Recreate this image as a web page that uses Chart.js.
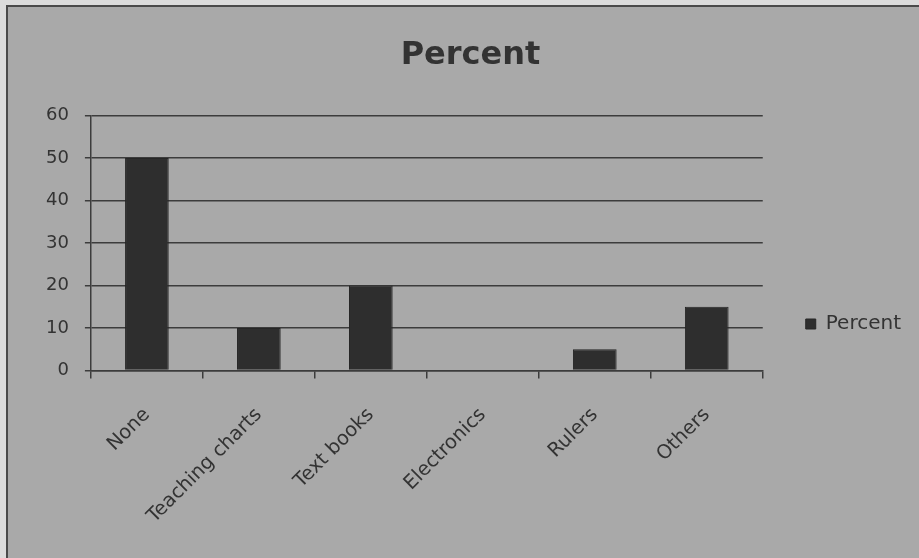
<!DOCTYPE html>
<html>
<head>
<meta charset="utf-8">
<script src="https://cdn.jsdelivr.net/npm/chart.js@4"></script>
<style>
  html, body { margin: 0; padding: 0; width: 919px; height: 558px; overflow: hidden; background: #dcdcdc; }
  #frame { position: absolute; left: 6px; top: 5px; right: 0; bottom: 0;
           border-left: 2px solid #4a4a4a; border-top: 2px solid #4a4a4a; background: #a9a9a9; }
  #wrap { position: absolute; left: 0; top: 0; width: 919px; height: 558px; }
</style>
</head>
<body>
<div id="frame"></div>
<div id="wrap"><canvas id="chart" width="919" height="558"></canvas></div>
<script>
// Share of respondents by teaching resource used
const categories = ["None", "Teaching charts", "Text books", "Electronics", "Rulers", "Others"];
const percentValues = [50, 10, 20, 0, 5, 15];
const seriesName = "Percent";
const yTicks = [0, 10, 20, 30, 40, 50, 60];

const ink = "#333333";
const lineInk = "#3c3c3c";
const fontFamily = "'DejaVu Sans', sans-serif";

new Chart(document.getElementById("chart"), {
  type: "bar",
  data: {
    labels: categories,
    datasets: [{
      label: seriesName,
      data: percentValues,
      backgroundColor: "#2e2e2e",
      borderColor: "#262626",
      borderWidth: 1,
      categoryPercentage: 1,
      barPercentage: 0.39
    }]
  },
  options: {
    responsive: false,
    animation: false,
    layout: { padding: { left: 30, right: 8, top: 10, bottom: 5 } },
    plugins: {
      title: {
        display: true,
        text: seriesName,
        color: ink,
        font: { family: fontFamily, size: 32, weight: "bold" },
        padding: { top: 26, bottom: 41 }
      },
      legend: {
        position: "right",
        // empty title used as a spacer to lower the single legend entry
        title: { display: true, text: " ", font: { size: 10 }, padding: { top: 73, bottom: 0 } },
        labels: {
          color: ink,
          boxWidth: 10,
          boxHeight: 10,
          padding: 43,
          font: { family: fontFamily, size: 20 }
        }
      },
      tooltip: { enabled: false }
    },
    scales: {
      y: {
        min: 0,
        max: 60,
        afterBuildTicks: (axis) => { axis.ticks = yTicks.map(v => ({ value: v })); },
        ticks: { color: ink, padding: 16, font: { family: fontFamily, size: 18 } },
        grid: { color: lineInk, lineWidth: 1.5, tickLength: 6, tickColor: lineInk },
        border: { display: true, color: lineInk, width: 1.5 }
      },
      x: {
        ticks: {
          color: ink,
          minRotation: 45,
          maxRotation: 45,
          padding: 25,
          font: { family: fontFamily, size: 19.5 }
        },
        grid: { display: true, drawOnChartArea: false, drawTicks: true, tickLength: 8,
                color: lineInk, lineWidth: 1.5 },
        border: { display: true, color: lineInk, width: 1.5 }
      }
    }
  }
});
</script>
</body>
</html>
